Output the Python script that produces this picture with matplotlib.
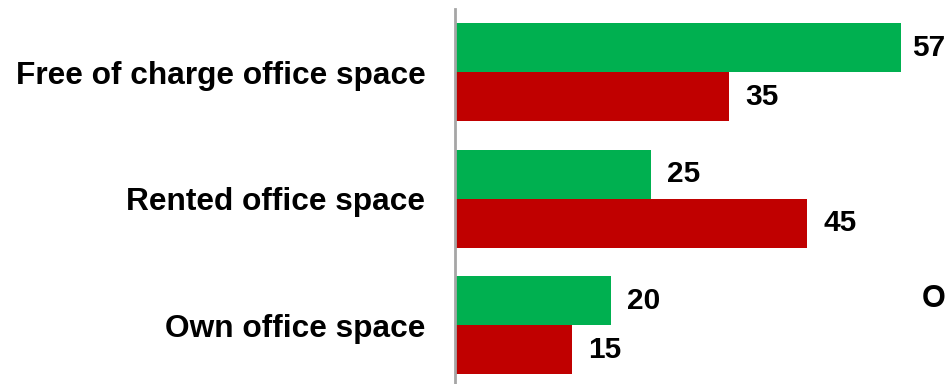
import matplotlib
matplotlib.use("Agg")
import matplotlib.pyplot as plt
import numpy as np

categories = ["Free of charge office space", "Rented office space", "Own office space"]
green_values = [57, 25, 20]
red_values = [35, 45, 15]

plt.rcParams['font.family'] = ['Liberation Sans', 'DejaVu Sans']

W, H = 947, 384
fig = plt.figure(figsize=(W / 100, H / 100), dpi=100)
scale = 7.84  # px per unit
left_px = 454.5
ax_w_px = W - left_px
top_px = 9
ax_h_px = 3 * 126.5
ax = fig.add_axes([left_px / W, (H - top_px - ax_h_px) / H, ax_w_px / W, ax_h_px / H])
ax.set_xlim(0, ax_w_px / scale)
ax.set_ylim(2.5, -0.5)

y = np.arange(len(categories))
bh = 49 / 126.5
green = "#00B050"
red = "#C00000"
ax.barh(y - bh / 2, green_values, height=bh, color=green, edgecolor="none")
ax.barh(y + bh / 2, red_values, height=bh, color=red, edgecolor="none")

max_label_x = (912 - left_px) / scale  # labels pushed in to stay inside the figure


def label(v, yy):
    end_px = v * scale
    off = min(16, 912 - left_px - end_px)
    ax.annotate(str(v), (v, yy), xytext=(off, 0), textcoords="offset pixels",
                va="center", ha="left", fontsize=21.5, fontweight="bold", color="black")


for yi, g, r in zip(y, green_values, red_values):
    label(g, yi - bh / 2)
    label(r, yi + bh / 2)

ax.set_yticks(y)
ax.set_yticklabels(categories, fontsize=22.8, fontweight="bold")
ax.tick_params(axis="y", length=0, pad=21)
ax.set_xticks([])
for s in ["top", "right", "bottom"]:
    ax.spines[s].set_visible(False)
ax.spines["left"].set_color("#A6A6A6")
ax.spines["left"].set_linewidth(2)

fig.text(922 / W, 1 - 299 / H, "O", fontsize=22, fontweight="bold", va="center", ha="left")

fig.savefig("out.png", dpi=100)
